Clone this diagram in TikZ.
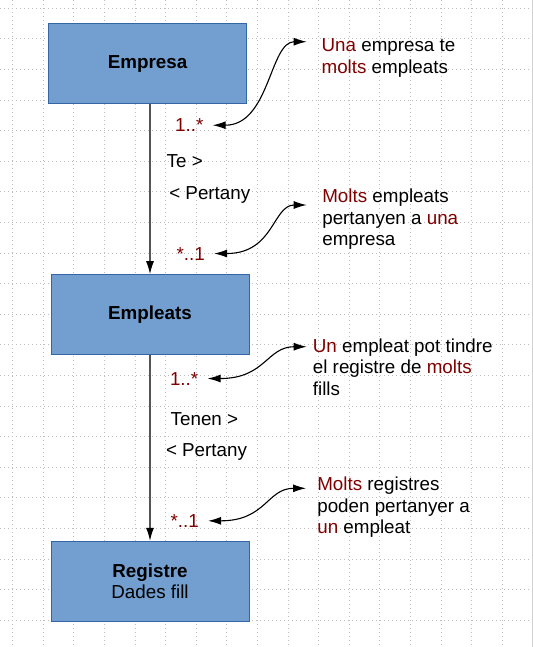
\documentclass[tikz,border=0pt]{standalone}
\usepackage{fontspec}
\setmainfont[Ligatures=NoCommon]{Liberation Sans}
\usetikzlibrary{arrows.meta}
\definecolor{EntityFill}{HTML}{729FCF}
\definecolor{EntityEdge}{HTML}{3465A4}
\definecolor{EntityInk}{HTML}{000000}
\definecolor{EntityRed}{HTML}{800000}
\definecolor{EntityGrid}{HTML}{BDBDBD}
\definecolor{EntityLine}{HTML}{555555}
\tikzset{
  entity text/.style={font=\fontsize{9.4}{10.8}\selectfont, text=EntityInk, inner sep=0pt},
  entity box/.style={draw=EntityEdge, fill=EntityFill, line width=.5pt, minimum width=99pt,
    minimum height=40pt, inner sep=0pt, align=center, font=\fontsize{9.4}{10.8}\selectfont},
  entity role/.style={entity text, anchor=base west},
  entity mult/.style={entity text, text=EntityRed, anchor=base west, inner xsep=4.5pt},
  entity note/.style={entity text, anchor=base west, align=left},
  entity grid/.style={draw=EntityGrid, line width=.5pt, dash pattern=on .5pt off 1.5pt},
  entity assoc/.style={draw=EntityLine, line width=.6pt, -{Latex[length=6.5pt,width=4pt,color=black]}},
  entity link/.style={draw=black, line width=.55pt,
    {Latex[length=6.5pt,width=4pt]}-{Latex[length=6.5pt,width=4pt]}},
}
\newcommand{\Hl}[1]{\textcolor{EntityRed}{#1}}

\begin{document}
\begin{tikzpicture}[x=.5pt,y=-.5pt]
  \useasboundingbox (0,0) rectangle (533,647);

  % grid
  \foreach \gx in {0,...,16}
    \draw[entity grid] ({12.7+30.6*\gx},0) -- ({12.7+30.6*\gx},647);
  \foreach \gy in {0,...,20}
    \draw[entity grid] (0,{8.3+30.6*\gy}) -- (533,{8.3+30.6*\gy});
  \draw[EntityGrid!70, line width=.5pt] (532.3,0) -- (532.3,647);

  % entities
  \node[entity box] (empresa) at (147.7,63.7) {\textbf{Empresa}};
  \node[entity box] (empleats) at (150,314.7) {\textbf{Empleats}};
  \node[entity box] (registre) at (150,581.3) {\textbf{Registre}\\Dades fill};

  \draw[entity assoc] (empleats.north |- empresa.south) -- (empleats.north);
  \draw[entity assoc] (registre.north |- empleats.south) -- (registre.north);

  % 1 — Empresa / Empleats
  \node[entity mult] (m1) at (165.7,131.7) {1..*};
  \node[entity role] (te) at (166.3,167.3) {Te >};
  \node[entity role] (pertany1) at (168.9,199.3) {< Pertany};
  \node[entity mult] (m2) at (167.1,260) {*..1};

  % notes sit on the baseline of their last line
  \node[entity note] (n1) at (321.2,73.3) {\Hl{Una} empresa te\\\Hl{molts} empleats};
  \node[entity note] (n2) at (321.9,245.9) {\Hl{Molts} empleats\\pertanyen a \Hl{una}\\empresa};
  \draw[entity link] (m1.east) .. controls +(57,0) and +(-37,0)
    .. ([xshift=-7.25pt,yshift=15.8pt]n1.base west);
  \draw[entity link] (m2.east) .. controls +(60,0) and +(-34,0)
    .. ([xshift=-7.6pt,yshift=20.45pt]n2.base west);

  % 2 — Empleats / Registre
  \node[entity mult] (m3) at (160.6,385) {1..*};
  \node[entity role] (tenen) at (170.3,425) {Tenen >};
  \node[entity role] (pertany2) at (165.6,456.5) {< Pertany};
  \node[entity mult] (m4) at (161.1,527.3) {*..1};

  \node[entity note] (n3) at (312.5,395.5) {\Hl{Un} empleat pot tindre\\el registre de \Hl{molts}\\fills};
  \node[entity note] (n4) at (316.9,533.9) {\Hl{Molts} registres\\poden pertanyer a\\\Hl{un} empleat};
  \draw[entity link] (m3.east) .. controls +(58,0) and +(-40,0)
    .. ([xshift=-2.9pt,yshift=24.4pt]n3.base west);
  \draw[entity link] (m4.east) .. controls +(58,0) and +(-39,0)
    .. ([xshift=-5.45pt,yshift=22.8pt]n4.base west);
\end{tikzpicture}
\end{document}
